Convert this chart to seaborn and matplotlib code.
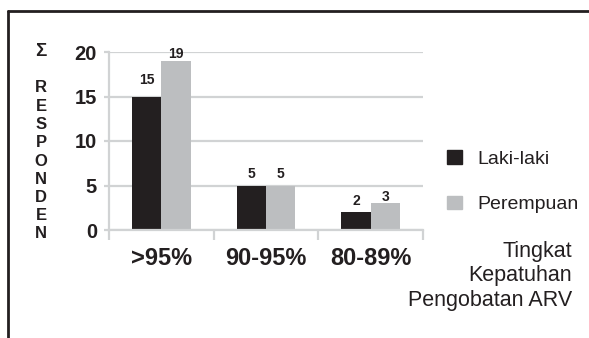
import matplotlib
matplotlib.use("Agg")
import matplotlib.pyplot as plt
from matplotlib.lines import Line2D
import seaborn as sns
import pandas as pd

# Data
categories = [">95%", "90-95%", "80-89%"]
laki_laki = [15, 5, 2]
perempuan = [19, 5, 3]
series_names = ["Laki-laki", "Perempuan"]
y_ticks = [0, 5, 10, 15, 20]

df = pd.DataFrame({
    "kategori": categories * 2,
    "jumlah": laki_laki + perempuan,
    "jenis": [series_names[0]] * 3 + [series_names[1]] * 3,
})

sns.set_theme(style="white")
plt.rcParams["font.family"] = ["Liberation Sans", "DejaVu Sans"]

DARK = "#231f20"
LIGHT = "#bcbec0"
GRID = "#d1d3d4"

fig = plt.figure(figsize=(5.89, 3.38), dpi=100)
W, H = 589, 338
PX = 72 / 100  # points per pixel
ax = fig.add_axes([109 / W, 1 - 230 / H, 314 / W, 178 / H])

sns.barplot(data=df, x="kategori", y="jumlah", hue="jenis", order=categories,
            hue_order=series_names, palette=[DARK, LIGHT], width=0.56,
            gap=0, saturation=1, ax=ax, legend=False, edgecolor="none")

ax.set_xlim(-0.5, 2.5)
ax.set_ylim(0, 20)
ax.set_yticks(y_ticks)
ax.set_xlabel("")
ax.set_ylabel("")

# Value labels above each bar (gap above the bar top, in pixels)
label_gaps = [[12, 7, 7], [3, 7, 2]]
for container, gaps in zip(ax.containers, label_gaps):
    for bar, gap in zip(container, gaps):
        h = bar.get_height()
        ax.annotate(f"{h:.0f}", (bar.get_x() + bar.get_width() / 2, h),
                    xytext=(0, gap * PX), textcoords="offset points",
                    ha="center", va="baseline", fontsize=10,
                    fontweight="bold", color=DARK)

ax.yaxis.grid(True, color=GRID, linewidth=1.6)
ax.set_axisbelow(True)
for s in ["top", "right"]:
    ax.spines[s].set_visible(False)
for s in ["left", "bottom"]:
    ax.spines[s].set_color(GRID)
    ax.spines[s].set_linewidth(1.6)

ax.tick_params(axis="y", length=3.6, width=1.6, color=GRID, pad=5,
               labelsize=14.5, labelcolor=DARK, left=True)
for lbl in ax.get_yticklabels():
    lbl.set_fontweight("bold")

ax.set_xticks([-0.5, 0.5, 1.5, 2.5], minor=True)
ax.tick_params(axis="x", which="minor", length=7, width=1.6, color=GRID, bottom=True)
ax.tick_params(axis="x", which="major", length=0, pad=12, labelsize=17, labelcolor=DARK)
for lbl in ax.get_xticklabels():
    lbl.set_fontweight("bold")

# Legend
handles = [plt.Rectangle((0, 0), 1, 1, color=DARK), plt.Rectangle((0, 0), 1, 1, color=LIGHT)]
fig.legend(handles, series_names, loc="upper left", bbox_to_anchor=(447 / W, 1 - 150 / H),
           frameon=False, fontsize=14, handlelength=0.75, handleheight=0.7,
           handletextpad=0.82, labelspacing=1.44, labelcolor=DARK,
           borderpad=0, borderaxespad=0)

# Axis titles
fig.text(41 / W, 1 - 52 / H, "Σ", ha="center", va="center", fontsize=13.5,
         fontweight="bold", color=DARK)
word = "RESPONDEN"
for i, ch in enumerate(word):
    fig.text(41 / W, 1 - (88 + i * 18.25) / H, ch, ha="center", va="center",
             fontsize=12, fontweight="bold", color=DARK)

fig.text(572 / W, 1 - 276 / H, "Tingkat\nKepatuhan\nPengobatan ARV", ha="right",
         va="center", fontsize=15.5, color=DARK, linespacing=1.2)

# Frame
fig.add_artist(Line2D([8 / W, 8 / W], [0, 1 - 11 / H], transform=fig.transFigure,
                      color=DARK, linewidth=2))
fig.add_artist(Line2D([8 / W, 1], [1 - 11 / H, 1 - 11 / H], transform=fig.transFigure,
                      color=DARK, linewidth=2))

fig.savefig("out.png", dpi=100)
